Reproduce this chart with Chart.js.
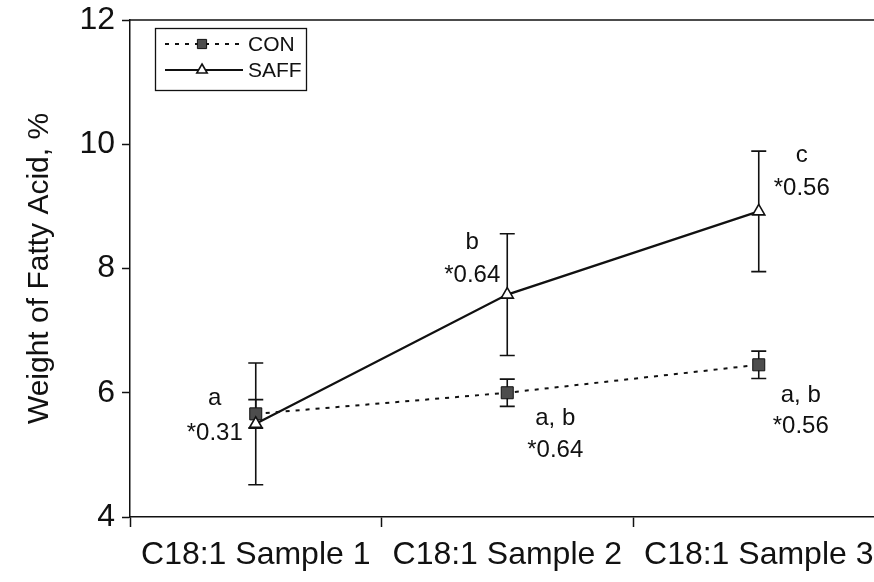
<!DOCTYPE html>
<html>
<head>
<meta charset="utf-8">
<title>C18:1 Weight of Fatty Acid</title>
<script src="https://cdn.jsdelivr.net/npm/chart.js@4.4.1/dist/chart.umd.min.js"></script>
<style>
  html, body { margin: 0; padding: 0; background: #fff; overflow: hidden; }
  /* the plot frame runs on past the right edge of the figure, so the canvas is wider and clipped */
  #wrap { width: 874px; height: 582px; overflow: hidden; }
  canvas { display: block; }
</style>
</head>
<body>
<div id="wrap"><canvas id="chart" width="894" height="582"></canvas></div>
<script>
// data
const categories = ['C18:1 Sample 1', 'C18:1 Sample 2', 'C18:1 Sample 3'];
const conValues = [5.66, 6.0, 6.45];
const conErrors = [0.23, 0.22, 0.22];
const saffValues = [5.5, 7.58, 8.92];
const saffErrors = [0.98, 0.98, 0.97];
const yTicks = [4, 6, 8, 10, 12];

// letters printed next to each point (null = nothing printed)
const saffNotes = [['a', '*0.31'], ['b', '*0.64'], ['c', '*0.56']];
const conNotes = [null, ['a, b', '*0.64'], ['a, b', '*0.56']];
// [dx, baseline of line 1, baseline of line 2] in px relative to the point
const saffNoteOffsets = [[-41, -19, 16], [-35, -46, -13], [43, -49, -16]];
const conNoteOffsets = [null, [48, 32, 64], [42, 37, 68]];

const INK = '#111111';
const FONT = "'Liberation Sans', Arial, Helvetica, sans-serif";

Chart.defaults.font.family = FONT;
Chart.defaults.color = INK;

// vertical error bars, drawn under the markers
const errorBarPlugin = {
    id: 'errorBars',
    beforeDatasetsDraw(chart) {
        const ctx = chart.ctx;
        const yScale = chart.scales.y;
        chart.data.datasets.forEach((ds, i) => {
            const meta = chart.getDatasetMeta(i);
            ctx.save();
            ctx.strokeStyle = INK;
            ctx.lineWidth = 1.6;
            meta.data.forEach((pt, j) => {
                const top = yScale.getPixelForValue(ds.data[j] + ds.errors[j]);
                const bot = yScale.getPixelForValue(ds.data[j] - ds.errors[j]);
                const x = pt.x;
                ctx.beginPath();
                ctx.moveTo(x, top);
                ctx.lineTo(x, bot);
                ctx.moveTo(x - 7.5, top);
                ctx.lineTo(x + 7.5, top);
                ctx.moveTo(x - 7.5, bot);
                ctx.lineTo(x + 7.5, bot);
                ctx.stroke();
            });
            ctx.restore();
        });
    }
};

// top frame line + significance letters
const notesPlugin = {
    id: 'notes',
    afterDatasetsDraw(chart) {
        const ctx = chart.ctx;
        const area = chart.chartArea;
        ctx.save();
        ctx.strokeStyle = INK;
        ctx.lineWidth = 1.5;
        ctx.beginPath();
        ctx.moveTo(area.left, area.top);
        ctx.lineTo(area.right, area.top);
        ctx.stroke();

        ctx.fillStyle = INK;
        ctx.font = `24px ${FONT}`;
        ctx.textAlign = 'center';
        ctx.textBaseline = 'alphabetic';
        const drawNotes = (datasetIndex, notes, offsets) => {
            const meta = chart.getDatasetMeta(datasetIndex);
            meta.data.forEach((pt, j) => {
                if (!notes[j]) return;
                const [dx, dy1, dy2] = offsets[j];
                ctx.fillText(notes[j][0], pt.x + dx, pt.y + dy1);
                ctx.fillText(notes[j][1], pt.x + dx, pt.y + dy2);
            });
        };
        drawNotes(0, conNotes, conNoteOffsets);
        drawNotes(1, saffNotes, saffNoteOffsets);
        ctx.restore();
    }
};

// boxed legend in the upper left corner, line sample + marker
const boxLegendPlugin = {
    id: 'boxLegend',
    afterDraw(chart) {
        const ctx = chart.ctx;
        const box = { left: 155, top: 28, width: 151, height: 62 };
        ctx.save();
        ctx.fillStyle = '#fff';
        ctx.fillRect(box.left, box.top, box.width, box.height);
        ctx.strokeStyle = INK;
        ctx.lineWidth = 1.3;
        ctx.strokeRect(box.left + 0.5, box.top + 0.5, box.width, box.height);

        const rows = [44, 70];
        chart.data.datasets.forEach((ds, i) => {
            const y = rows[i];
            ctx.save();
            ctx.strokeStyle = ds.borderColor;
            ctx.lineWidth = ds.borderWidth;
            ctx.setLineDash(ds.borderDash || []);
            ctx.beginPath();
            ctx.moveTo(165, y);
            ctx.lineTo(243, y);
            ctx.stroke();
            ctx.restore();

            ctx.fillStyle = ds.pointBackgroundColor;
            ctx.strokeStyle = ds.pointBorderColor;
            ctx.lineWidth = ds.pointBorderWidth;
            Chart.helpers.drawPoint(ctx, {
                pointStyle: ds.pointStyle,
                radius: ds.pointStyle === 'rect' ? 6.5 : 6,
                rotation: 0,
                borderWidth: ds.pointBorderWidth
            }, 202, y);

            ctx.fillStyle = INK;
            ctx.font = `21px ${FONT}`;
            ctx.textAlign = 'left';
            ctx.textBaseline = 'middle';
            ctx.fillText(ds.label, 248, y + 1);
        });
        ctx.restore();
    }
};

const chart = new Chart(document.getElementById('chart'), {
    type: 'line',
    data: {
        labels: categories,
        datasets: [
            {
                label: 'CON',
                data: conValues,
                errors: conErrors,
                borderColor: INK,
                borderWidth: 2,
                borderDash: [4, 6],
                pointStyle: 'rect',
                pointRadius: 8.5,
                pointBackgroundColor: '#4d4d4d',
                pointBorderColor: INK,
                pointBorderWidth: 1,
                tension: 0,
                order: 1
            },
            {
                label: 'SAFF',
                data: saffValues,
                errors: saffErrors,
                borderColor: INK,
                borderWidth: 2.2,
                pointStyle: 'triangle',
                pointRadius: 7,
                pointBackgroundColor: '#ffffff',
                pointBorderColor: INK,
                pointBorderWidth: 1.6,
                tension: 0,
                order: 0
            }
        ]
    },
    options: {
        responsive: false,
        animation: false,
        devicePixelRatio: 1,
        layout: { padding: { top: 20, left: 0, right: 0, bottom: 0 } },
        plugins: {
            legend: { display: false },
            tooltip: { enabled: false }
        },
        scales: {
            x: {
                type: 'category',
                offset: true,
                grid: {
                    offset: true,
                    drawOnChartArea: false,
                    tickLength: 10,
                    tickWidth: 1.5,
                    color: INK
                },
                border: { display: true, color: INK, width: 1.5 },
                ticks: {
                    color: INK,
                    font: { size: 32 },
                    padding: 9,
                    maxRotation: 0,
                    autoSkip: false
                },
                afterFit(scale) {
                    scale.height = 65;
                    scale.paddingLeft = 0;
                    scale.paddingRight = 0;
                }
            },
            y: {
                min: 4,
                max: 12,
                afterBuildTicks(scale) {
                    scale.ticks = yTicks.map(v => ({ value: v }));
                },
                grid: {
                    drawOnChartArea: false,
                    tickLength: 8,
                    tickWidth: 1.5,
                    color: INK
                },
                border: { display: true, color: INK, width: 1.5 },
                ticks: {
                    color: INK,
                    font: { size: 32 },
                    padding: 7
                },
                title: {
                    display: true,
                    text: 'Weight of Fatty Acid, %',
                    color: INK,
                    font: { size: 30 },
                    padding: { top: 22, bottom: 0 }
                },
                afterFit(scale) {
                    scale.width = 130;
                    scale.paddingTop = 0;
                    scale.paddingBottom = 0;
                }
            }
        }
    },
    plugins: [errorBarPlugin, notesPlugin, boxLegendPlugin]
});
</script>
</body>
</html>
